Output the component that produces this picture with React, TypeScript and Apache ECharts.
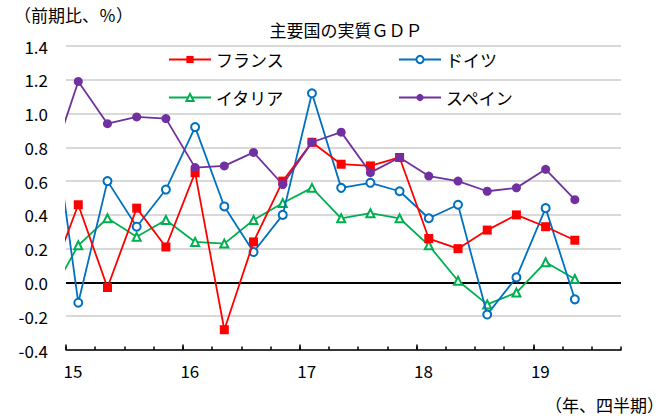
import React, { useEffect, useRef } from "react";
import * as echarts from "echarts";

// Quarters: 2014Q4 (clipped at left edge) .. 2019Q2
const quarters = ["14Q4", "15Q1", "15Q2", "15Q3", "15Q4", "16Q1", "16Q2", "16Q3", "16Q4", "17Q1", "17Q2", "17Q3", "17Q4", "18Q1", "18Q2", "18Q3", "18Q4", "19Q1", "19Q2"];
const yearLabels = ["15", "16", "17", "18", "19"];
const france = [0.0, 0.46, -0.03, 0.44, 0.21, 0.65, -0.28, 0.24, 0.6, 0.83, 0.7, 0.69, 0.74, 0.26, 0.2, 0.31, 0.4, 0.33, 0.25];
const germany = [1.15, -0.12, 0.6, 0.33, 0.55, 0.92, 0.45, 0.18, 0.4, 1.12, 0.56, 0.59, 0.54, 0.38, 0.46, -0.19, 0.03, 0.44, -0.1];
const italy = [-0.09, 0.22, 0.38, 0.27, 0.37, 0.24, 0.23, 0.37, 0.47, 0.56, 0.38, 0.41, 0.38, 0.22, 0.01, -0.13, -0.06, 0.12, 0.02];
const spain = [0.67, 1.19, 0.94, 0.98, 0.97, 0.68, 0.69, 0.77, 0.58, 0.83, 0.89, 0.65, 0.74, 0.63, 0.6, 0.54, 0.56, 0.67, 0.49];

const FONT = "'Noto Sans CJK JP', 'Noto Sans', sans-serif";
const POINT_OFFSET = 0.42; // position of a quarter's point inside its band (layout)

function toPairs(values: number[]) {
  return quarters.map((_, i) => [i - 1 + POINT_OFFSET, values[i]]);
}

export default function App() {
  const ref = useRef<HTMLDivElement>(null);
  useEffect(() => {
    if (!ref.current) return;
    const chart = echarts.init(ref.current, null, { renderer: "svg" });
    const quarterTicks = Array.from({ length: 20 }, (_, i) => i);
    const yearTicks = yearLabels.map((_, i) => i * 4);
    const gridColors = ["#d9d9d9", "#d9d9d9", "#000000", "#d9d9d9", "#d9d9d9", "#d9d9d9", "#d9d9d9", "#d9d9d9", "#d9d9d9", "#d9d9d9"];
    const legendText = { fontSize: 17, color: "#000", fontFamily: FONT };
    const mkLegend = (name: string, left: number, top: number) => ({
      data: [name],
      left,
      top,
      itemWidth: 42,
      itemHeight: 9,
      textStyle: legendText,
    });
    chart.setOption({
      animation: false,
      textStyle: { fontFamily: FONT },
      title: {
        text: "主要国の実質ＧＤＰ",
        left: 341,
        top: 16,
        textAlign: "center",
        textStyle: { fontSize: 17, fontWeight: "normal", color: "#000", fontFamily: FONT },
      },
      legend: [
        mkLegend("フランス", 163, 46),
        mkLegend("ドイツ", 393, 46),
        mkLegend("イタリア", 163, 84),
        mkLegend("スペイン", 393, 84),
      ],
      grid: { left: 66, right: 47, top: 46, bottom: 66, containLabel: false },
      xAxis: [
        {
          type: "value",
          min: 0,
          max: 19,
          interval: 1,
          position: "bottom",
          axisLine: { show: true, onZero: false, lineStyle: { color: "#000", width: 1.5 } },
          axisTick: { show: true, inside: true, length: 3.5, customValues: quarterTicks, lineStyle: { color: "#000", width: 1.5 } },
          axisLabel: { show: false },
          splitLine: { show: false },
        },
        {
          type: "value",
          min: 0,
          max: 19,
          interval: 1,
          position: "bottom",
          axisLine: { show: false, onZero: false },
          axisTick: { show: true, inside: true, length: 5.5, customValues: yearTicks, lineStyle: { color: "#000", width: 1.5 } },
          axisLabel: {
            show: true,
            customValues: yearTicks,
            formatter: (v: number) => yearLabels[Math.round(v / 4)] ?? "",
            fontSize: 17,
            color: "#000",
            margin: 12,
            padding: [0, 0, 0, 14],
            fontFamily: FONT,
          },
          splitLine: { show: false },
        },
      ],
      yAxis: {
        type: "value",
        min: -0.4,
        max: 1.4,
        interval: 0.2,
        axisLine: { show: false },
        axisTick: { show: false },
        axisLabel: {
          formatter: (v: number) => v.toFixed(1),
          fontSize: 17,
          color: "#000",
          margin: 18,
          fontFamily: FONT,
        },
        splitLine: { show: true, lineStyle: { color: gridColors, width: 2 } },
      },
      graphic: [
        {
          type: "text",
          left: 14,
          top: 6,
          style: { text: "（前期比、％）", fontSize: 17, fill: "#000", fontFamily: FONT },
        },
        {
          type: "text",
          right: 4,
          top: 396,
          style: { text: "（年、四半期）", fontSize: 17, fill: "#000", fontFamily: FONT },
        },
      ],
      series: [
        {
          name: "フランス",
          type: "line",
          data: toPairs(france),
          symbol: "rect",
          symbolSize: 9,
          itemStyle: { color: "#ff0000" },
          lineStyle: { color: "#ff0000", width: 1.8 },
          z: 4,
        },
        {
          name: "ドイツ",
          type: "line",
          data: toPairs(germany),
          symbol: "emptyCircle",
          symbolSize: 8,
          itemStyle: { color: "#0070c0", borderWidth: 1.5 },
          lineStyle: { color: "#0070c0", width: 1.8 },
          z: 3,
        },
        {
          name: "イタリア",
          type: "line",
          data: toPairs(italy),
          symbol: "emptyTriangle",
          symbolSize: 8,
          itemStyle: { color: "#00b050", borderWidth: 1.5 },
          lineStyle: { color: "#00b050", width: 1.8 },
          z: 2,
        },
        {
          name: "スペイン",
          type: "line",
          data: toPairs(spain),
          symbol: "circle",
          symbolSize: 9,
          itemStyle: { color: "#7030a0" },
          lineStyle: { color: "#7030a0", width: 1.8 },
          z: 5,
        },
      ],
    });
    return () => chart.dispose();
  }, []);
  return (
    <div
      ref={ref}
      style={{ position: "fixed", left: 0, top: 0, width: 668, height: 416, background: "#fff" }}
    />
  );
}
